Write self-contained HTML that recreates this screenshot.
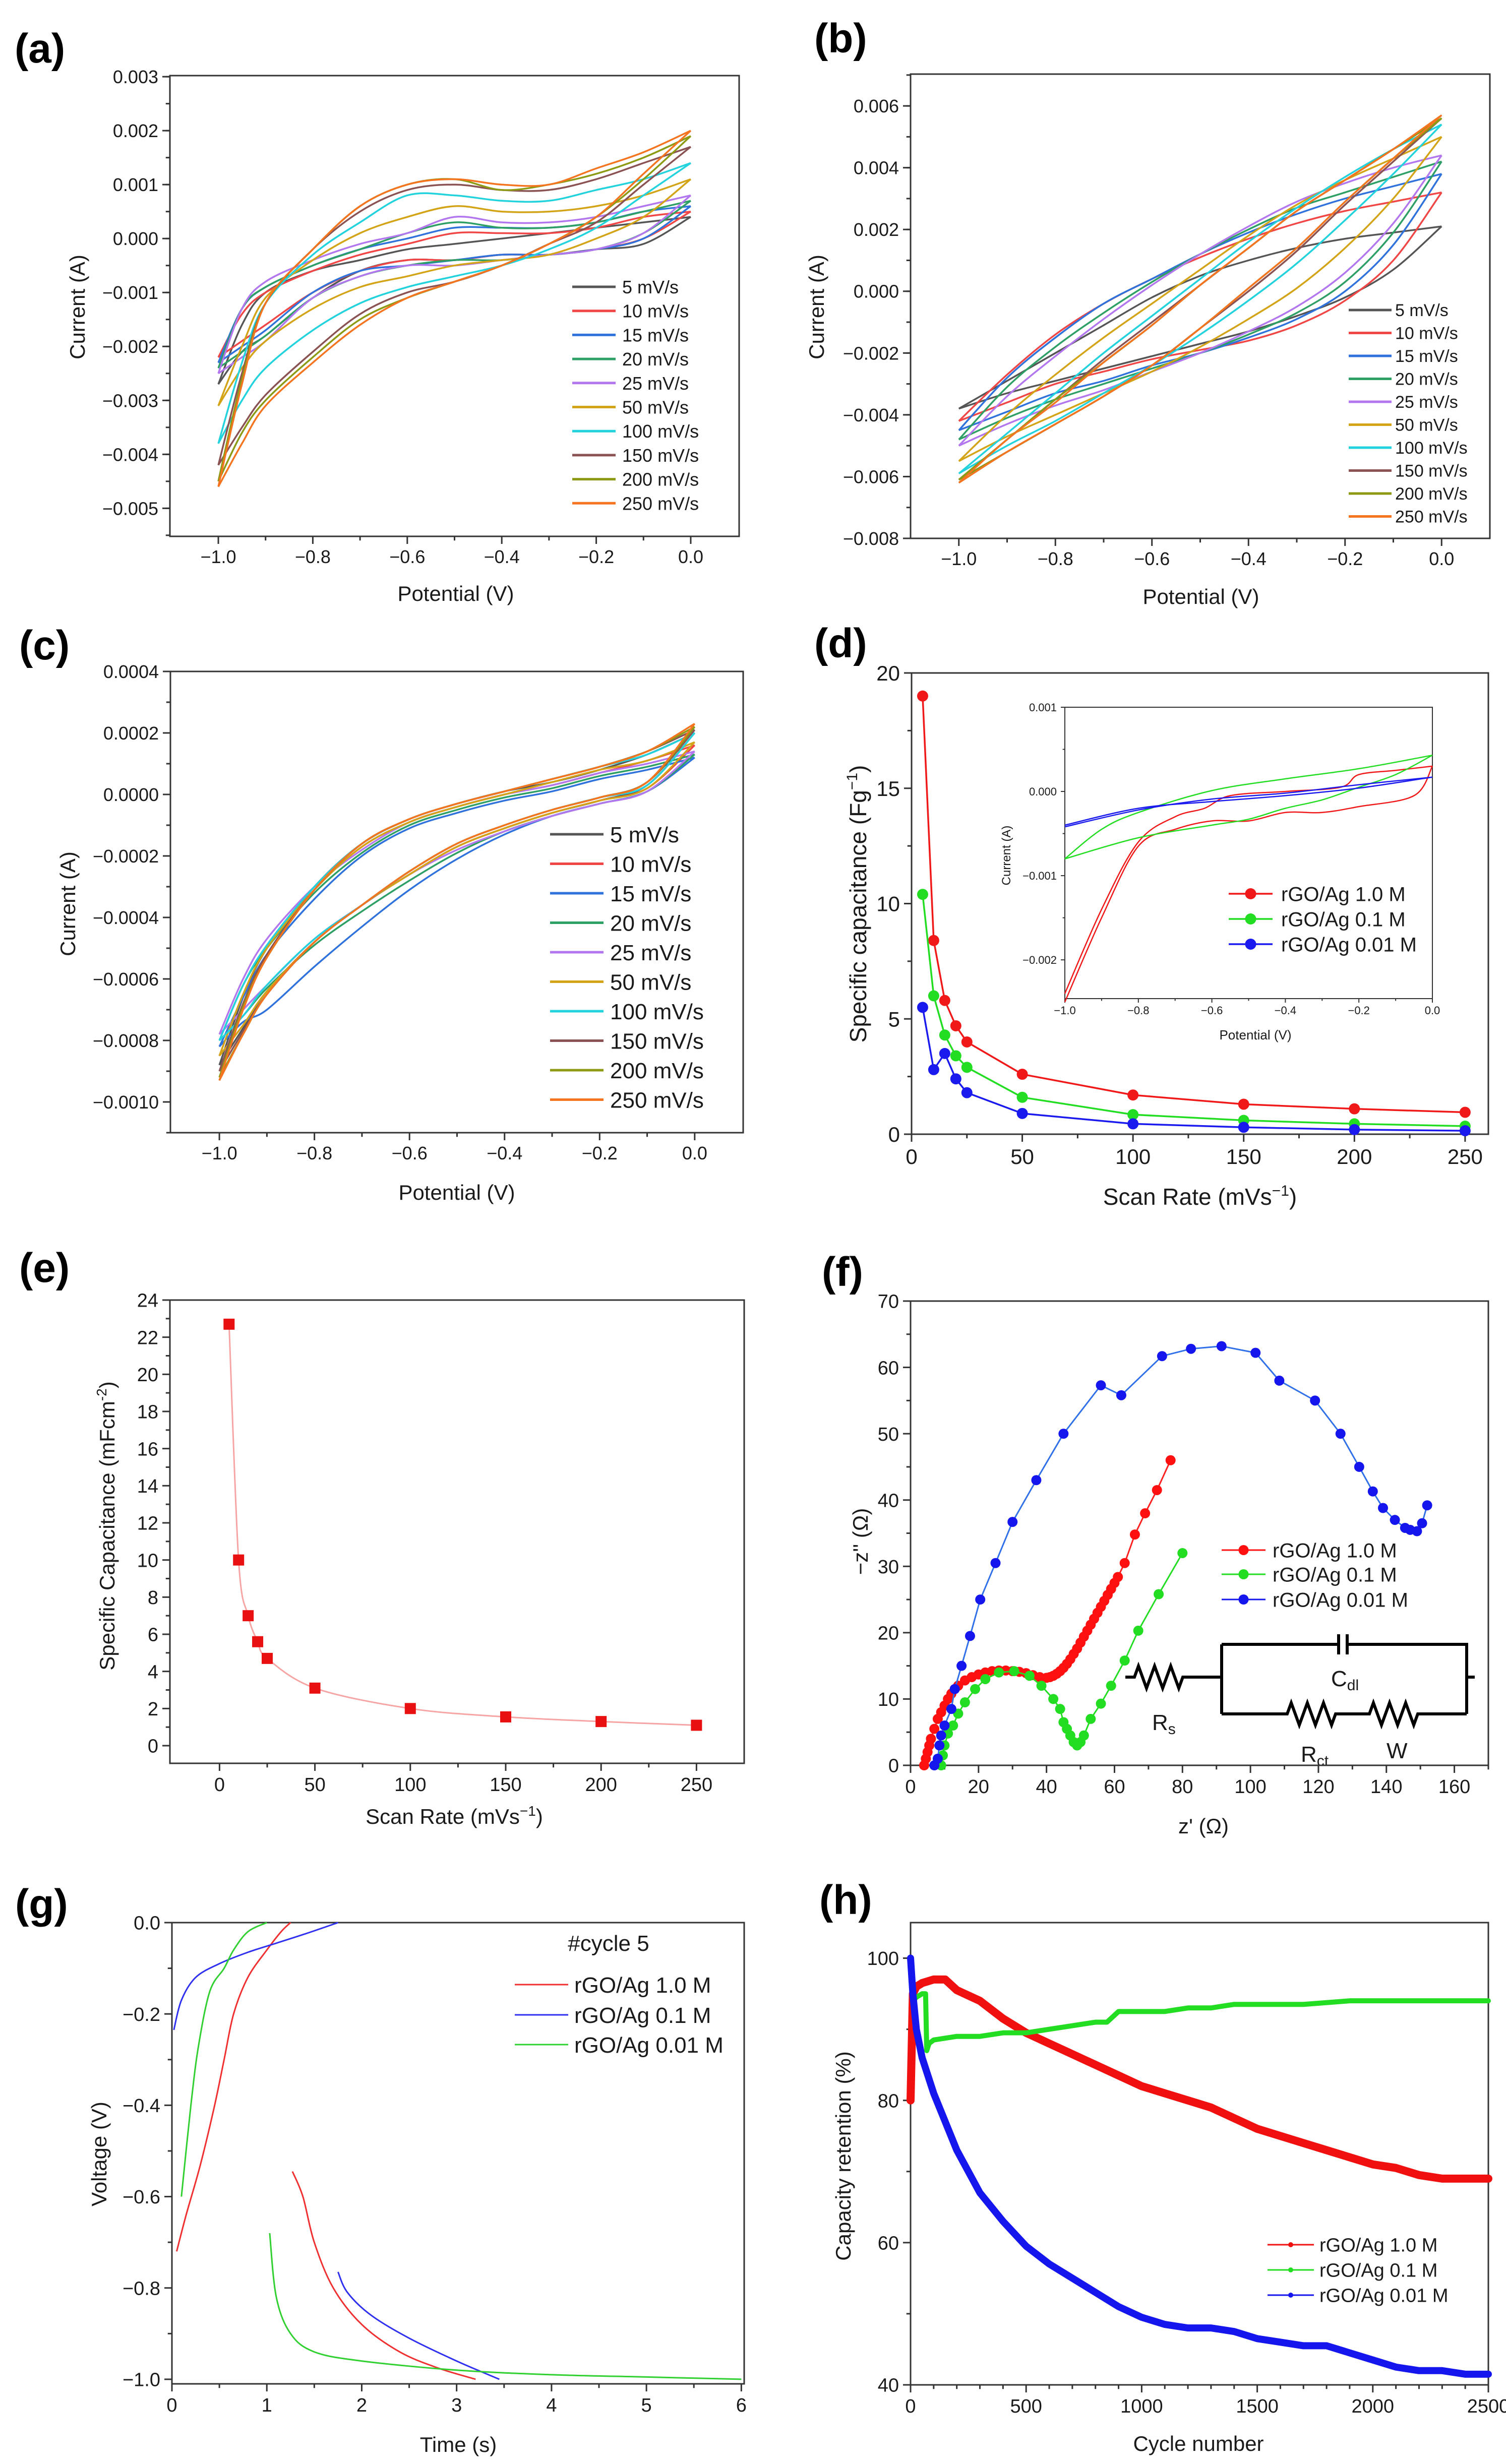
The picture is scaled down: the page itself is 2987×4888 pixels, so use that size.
<!DOCTYPE html>
<html><head><meta charset="utf-8"><title>rGO/Ag electrochemical characterisation</title>
<style>
html,body{margin:0;padding:0;background:#fff;}
svg{display:block;font-family:"Liberation Sans",Arial,sans-serif;}
text{fill:#1a1a1a;}
.pl{font-weight:bold;font-size:82px;fill:#000;}
</style></head>
<body>
<svg id="fig" width="2987" height="4888" viewBox="0 0 2987 4888" xmlns="http://www.w3.org/2000/svg">
<rect width="2987" height="4888" fill="#fff"/>
<text class="pl" x="29" y="124">(a)</text>
<text class="pl" x="1615" y="104">(b)</text>
<text class="pl" x="38" y="1308">(c)</text>
<text class="pl" x="1615" y="1304">(d)</text>
<text class="pl" x="38" y="2543">(e)</text>
<text class="pl" x="1630" y="2551">(f)</text>
<text class="pl" x="30" y="3805">(g)</text>
<text class="pl" x="1625" y="3797">(h)</text>
<text x="904" y="1192" font-size="42" text-anchor="middle">Potential (V)</text>
<text transform="translate(168,609) rotate(-90)" font-size="42" text-anchor="middle">Current (A)</text>
<text x="2382" y="1198" font-size="42" text-anchor="middle">Potential (V)</text>
<text transform="translate(1634,609) rotate(-90)" font-size="42" text-anchor="middle">Current (A)</text>
<text x="906" y="2380" font-size="42" text-anchor="middle">Potential (V)</text>
<text transform="translate(149,1793) rotate(-90)" font-size="42" text-anchor="middle">Current (A)</text>
<text x="2380" y="2390" font-size="46" text-anchor="middle">Scan Rate (mVs<tspan dy="-18" font-size="30">−1</tspan><tspan dy="18">)</tspan></text>
<text transform="translate(1718,1793) rotate(-90)" font-size="46" text-anchor="middle">Specific capacitance (Fg<tspan dy="-18" font-size="30">−1</tspan><tspan dy="18">)</tspan></text>
<text x="2490" y="2062" font-size="26" text-anchor="middle">Potential (V)</text>
<text transform="translate(2004,1697) rotate(-90)" font-size="24" text-anchor="middle">Current (A)</text>
<text x="901" y="3618" font-size="42" text-anchor="middle">Scan Rate (mVs<tspan dy="-16" font-size="28">−1</tspan><tspan dy="16">)</tspan></text>
<text transform="translate(227,3027) rotate(-90)" font-size="42" text-anchor="middle">Specific Capacitance (mFcm<tspan dy="-16" font-size="28">-2</tspan><tspan dy="16">)</tspan></text>
<text x="2387" y="3637" font-size="42" text-anchor="middle">z' (Ω)</text>
<text transform="translate(1721,3058) rotate(-90)" font-size="42" text-anchor="middle">−z'' (Ω)</text>
<text x="909" y="4864" font-size="42" text-anchor="middle">Time (s)</text>
<text transform="translate(211,4273) rotate(-90)" font-size="42" text-anchor="middle">Voltage (V)</text>
<text x="2377" y="4862" font-size="42" text-anchor="middle">Cycle number</text>
<text transform="translate(1687,4277) rotate(-90)" font-size="42" text-anchor="middle">Capacity retention (%)</text>
<text x="1207" y="3870" font-size="44" text-anchor="middle">#cycle 5</text>
<g fill="none" stroke="#000" stroke-width="6">
<path d="M2232,3327 L2250,3327 L2258,3305 L2274,3349 L2290,3305 L2306,3349 L2322,3305 L2338,3349 L2346,3327 L2423,3327"/>
<path d="M2423,3262 L2423,3400 M2423,3262 L2655,3262 M2655,3242 L2655,3282 M2672,3242 L2672,3282 M2672,3262 L2909,3262 L2909,3400 M2909,3327 L2925,3327"/>
<path d="M2423,3400 L2553,3400 L2561,3378 L2577,3422 L2593,3378 L2609,3422 L2625,3378 L2641,3422 L2649,3400 L2716,3400 L2724,3378 L2740,3422 L2756,3378 L2772,3422 L2788,3378 L2804,3422 L2812,3400 L2909,3400"/>
</g>
<text x="2285" y="3432" font-size="44">R<tspan font-size="30" dy="8">s</tspan></text>
<text x="2640" y="3345" font-size="44">C<tspan font-size="30" dy="8">dl</tspan></text>
<text x="2580" y="3495" font-size="44">R<tspan font-size="30" dy="8">ct</tspan></text>
<text x="2750" y="3488" font-size="44">W</text>
</svg>
<script>
const rateLabels=['5 mV/s','10 mV/s','15 mV/s','20 mV/s','25 mV/s','50 mV/s','100 mV/s','150 mV/s','200 mV/s','250 mV/s'];
const rateColors=['#555555','#f04646','#2f72dc','#2ea065','#b277ee','#d4a418','#22d2dc','#8a5252','#8c9a14','#f47420'];
const aX=[-1,-0.95,-0.9,-0.8,-0.7,-0.6,-0.5,-0.4,-0.3,-0.2,-0.1,0];
const aUpper=[
[-0.0027,-0.0016,-0.0010,-0.0006,-0.0004,-0.0002,-0.0001,0.0000,0.0001,0.0002,0.0003,0.0004],
[-0.0022,-0.0014,-0.0010,-0.0006,-0.0003,-0.0001,0.0001,0.0001,0.0001,0.0002,0.0004,0.0005],
[-0.0023,-0.0013,-0.0009,-0.0005,-0.0002,0.0000,0.0002,0.0002,0.0002,0.0003,0.0005,0.0006],
[-0.0024,-0.0013,-0.0009,-0.0005,-0.0002,0.0001,0.0003,0.0002,0.0002,0.0003,0.0005,0.0007],
[-0.0025,-0.0013,-0.0008,-0.0004,-0.0001,0.0001,0.0004,0.0003,0.0003,0.0004,0.0006,0.0008],
[-0.0031,-0.0020,-0.0011,-0.0004,0.0001,0.0004,0.0006,0.0005,0.0005,0.0006,0.0008,0.0011],
[-0.0038,-0.0023,-0.0012,-0.0003,0.0003,0.0008,0.0008,0.0007,0.0007,0.0009,0.0011,0.0014],
[-0.0042,-0.0025,-0.0012,-0.0002,0.0005,0.0009,0.0010,0.0009,0.0009,0.0011,0.0014,0.0017],
[-0.0045,-0.0026,-0.0012,-0.0002,0.0006,0.0010,0.0011,0.0009,0.0010,0.0012,0.0015,0.0019],
[-0.0046,-0.0027,-0.0012,-0.0002,0.0006,0.0010,0.0011,0.0010,0.0010,0.0013,0.0016,0.0020]];
const aLower=[
[-0.0027,-0.0021,-0.0018,-0.0011,-0.0006,-0.0004,-0.0004,-0.0003,-0.0003,-0.0002,-0.0001,0.0004],
[-0.0022,-0.0019,-0.0016,-0.0010,-0.0006,-0.0004,-0.0004,-0.0003,-0.0003,-0.0002,0.0000,0.0005],
[-0.0023,-0.0020,-0.0017,-0.0010,-0.0006,-0.0005,-0.0004,-0.0003,-0.0003,-0.0002,0.0000,0.0006],
[-0.0024,-0.0021,-0.0018,-0.0011,-0.0007,-0.0005,-0.0004,-0.0004,-0.0003,-0.0002,0.0001,0.0007],
[-0.0025,-0.0022,-0.0019,-0.0011,-0.0007,-0.0005,-0.0005,-0.0004,-0.0003,-0.0002,0.0001,0.0008],
[-0.0031,-0.0024,-0.0019,-0.0013,-0.0009,-0.0007,-0.0005,-0.0004,-0.0003,0.0000,0.0004,0.0011],
[-0.0038,-0.0030,-0.0024,-0.0017,-0.0012,-0.0009,-0.0007,-0.0005,-0.0002,0.0002,0.0008,0.0014],
[-0.0042,-0.0035,-0.0029,-0.0021,-0.0014,-0.0010,-0.0008,-0.0005,-0.0001,0.0003,0.0010,0.0017],
[-0.0045,-0.0036,-0.0030,-0.0022,-0.0015,-0.0011,-0.0008,-0.0005,-0.0001,0.0004,0.0011,0.0019],
[-0.0046,-0.0038,-0.0031,-0.0023,-0.0016,-0.0011,-0.0008,-0.0005,-0.0001,0.0004,0.0012,0.0020]];
const aXTicks=[-1,-0.8,-0.6,-0.4,-0.2,0];
const aXTickLabels=['−1.0','−0.8','−0.6','−0.4','−0.2','0.0'];
const aYTicks=[-0.005,-0.004,-0.003,-0.002,-0.001,0,0.001,0.002,0.003];
const aYTickLabels=['−0.005','−0.004','−0.003','−0.002','−0.001','0.000','0.001','0.002','0.003'];
const bX=[-1,-0.9,-0.8,-0.7,-0.6,-0.5,-0.4,-0.3,-0.2,-0.1,0];
const bUpper=[
[-0.0038,-0.0029,-0.0020,-0.0011,-0.0002,0.0005,0.0010,0.0014,0.0017,0.0019,0.0021],
[-0.0042,-0.0027,-0.0014,-0.0004,0.0004,0.0011,0.0017,0.0022,0.0026,0.0029,0.0032],
[-0.0045,-0.0028,-0.0015,-0.0004,0.0004,0.0012,0.0019,0.0025,0.0030,0.0034,0.0038],
[-0.0048,-0.0031,-0.0018,-0.0007,0.0003,0.0012,0.0020,0.0027,0.0032,0.0037,0.0042],
[-0.0050,-0.0034,-0.0021,-0.0009,0.0002,0.0012,0.0021,0.0029,0.0035,0.0040,0.0044],
[-0.0055,-0.0040,-0.0027,-0.0015,-0.0004,0.0007,0.0018,0.0028,0.0036,0.0043,0.0050],
[-0.0059,-0.0046,-0.0033,-0.0020,-0.0008,0.0004,0.0016,0.0027,0.0037,0.0046,0.0054],
[-0.0061,-0.0048,-0.0035,-0.0022,-0.0010,0.0002,0.0014,0.0026,0.0036,0.0046,0.0056],
[-0.0061,-0.0048,-0.0035,-0.0023,-0.0011,0.0002,0.0014,0.0026,0.0036,0.0046,0.0056],
[-0.0062,-0.0048,-0.0036,-0.0023,-0.0011,0.0002,0.0014,0.0026,0.0036,0.0046,0.0057]];
const bLower=[
[-0.0038,-0.0033,-0.0029,-0.0025,-0.0021,-0.0017,-0.0013,-0.0008,-0.0002,0.0007,0.0021],
[-0.0042,-0.0036,-0.0030,-0.0026,-0.0022,-0.0019,-0.0016,-0.0011,-0.0003,0.0010,0.0032],
[-0.0045,-0.0039,-0.0033,-0.0029,-0.0024,-0.0020,-0.0015,-0.0009,0.0000,0.0015,0.0038],
[-0.0048,-0.0041,-0.0035,-0.0030,-0.0025,-0.0020,-0.0014,-0.0007,0.0003,0.0019,0.0042],
[-0.0050,-0.0043,-0.0037,-0.0032,-0.0026,-0.0020,-0.0013,-0.0005,0.0006,0.0022,0.0044],
[-0.0055,-0.0047,-0.0040,-0.0033,-0.0026,-0.0018,-0.0009,0.0001,0.0014,0.0030,0.0050],
[-0.0059,-0.0050,-0.0042,-0.0033,-0.0024,-0.0014,-0.0003,0.0009,0.0023,0.0038,0.0054],
[-0.0061,-0.0052,-0.0043,-0.0034,-0.0024,-0.0012,0.0000,0.0013,0.0028,0.0042,0.0056],
[-0.0061,-0.0052,-0.0043,-0.0034,-0.0024,-0.0012,0.0001,0.0014,0.0029,0.0043,0.0056],
[-0.0062,-0.0052,-0.0043,-0.0034,-0.0024,-0.0012,0.0001,0.0014,0.0029,0.0043,0.0057]];
const bYTicks=[-0.008,-0.006,-0.004,-0.002,0,0.002,0.004,0.006];
const bYTickLabels=['−0.008','−0.006','−0.004','−0.002','0.000','0.002','0.004','0.006'];
const cX=[-1,-0.95,-0.9,-0.8,-0.7,-0.6,-0.5,-0.4,-0.3,-0.2,-0.1,0];
const cUpper=[
[-0.00088,-0.00066,-0.0005,-0.0003,-0.00016,-0.00008,-0.00003,0.00001,0.00004,0.00008,0.00013,0.0002],
[-0.00085,-0.00065,-0.0005,-0.00031,-0.00017,-0.00009,-0.00004,0.0,0.00003,0.00007,0.00011,0.00016],
[-0.00082,-0.00066,-0.00052,-0.00034,-0.0002,-0.00011,-0.00006,-0.00002,0.00001,0.00005,0.00008,0.00012],
[-0.0008,-0.00062,-0.0005,-0.00032,-0.00019,-0.0001,-0.00005,-0.00001,0.00002,0.00006,0.00009,0.00013],
[-0.00078,-0.0006,-0.00047,-0.0003,-0.00018,-0.00009,-0.00004,0.0,0.00003,0.00007,0.0001,0.00014],
[-0.00085,-0.00065,-0.0005,-0.00031,-0.00017,-0.00009,-0.00004,0.0,0.00004,0.00008,0.00011,0.00017],
[-0.0008,-0.00062,-0.00049,-0.0003,-0.00016,-0.00008,-0.00003,0.00001,0.00005,0.00009,0.00013,0.0002],
[-0.0009,-0.00068,-0.00052,-0.00031,-0.00016,-0.00008,-0.00003,0.00001,0.00005,0.00009,0.00014,0.00021],
[-0.00092,-0.00069,-0.00053,-0.00031,-0.00016,-0.00008,-0.00003,0.00001,0.00005,0.00009,0.00014,0.00022],
[-0.00093,-0.0007,-0.00053,-0.00031,-0.00016,-0.00008,-0.00003,0.00001,0.00005,0.00009,0.00014,0.00023]];
const cLower=[
[-0.00088,-0.00076,-0.00064,-0.00048,-0.00036,-0.00026,-0.00017,-0.00011,-0.00006,-0.00002,0.00003,0.0002],
[-0.00085,-0.00075,-0.00064,-0.00048,-0.00036,-0.00026,-0.00017,-0.00011,-0.00006,-0.00002,0.00002,0.00016],
[-0.00082,-0.00074,-0.0007,-0.00056,-0.00043,-0.00031,-0.00021,-0.00013,-0.00007,-0.00003,0.00001,0.00012],
[-0.0008,-0.00072,-0.00063,-0.00049,-0.00038,-0.00028,-0.00019,-0.00012,-0.00007,-0.00003,0.00001,0.00013],
[-0.00078,-0.0007,-0.00062,-0.00047,-0.00036,-0.00026,-0.00018,-0.00012,-0.00007,-0.00003,0.00001,0.00014],
[-0.00085,-0.00075,-0.00064,-0.00048,-0.00036,-0.00026,-0.00017,-0.00011,-0.00006,-0.00002,0.00002,0.00017],
[-0.0008,-0.00072,-0.00062,-0.00047,-0.00036,-0.00025,-0.00016,-0.0001,-0.00005,-0.00001,0.00003,0.0002],
[-0.0009,-0.00077,-0.00065,-0.00048,-0.00036,-0.00025,-0.00016,-0.0001,-0.00005,-0.00001,0.00004,0.00021],
[-0.00092,-0.00078,-0.00065,-0.00048,-0.00036,-0.00025,-0.00016,-0.0001,-0.00005,-0.00001,0.00004,0.00022],
[-0.00093,-0.00078,-0.00065,-0.00048,-0.00036,-0.00025,-0.00016,-0.0001,-0.00005,-0.00001,0.00004,0.00023]];
const cYTicks=[-0.001,-0.0008,-0.0006,-0.0004,-0.0002,0,0.0002,0.0004];
const cYTickLabels=['−0.0010','−0.0008','−0.0006','−0.0004','−0.0002','0.0000','0.0002','0.0004'];
const seriesNames=['rGO/Ag 1.0 M','rGO/Ag 0.1 M','rGO/Ag 0.01 M'];
const seriesColors=['#f01818','#22dd22','#1a1aee'];
const dRates=[5,10,15,20,25,50,100,150,200,250];
const dRed=[19,8.4,5.8,4.7,4.0,2.6,1.7,1.3,1.1,0.95];
const dGreen=[10.4,6.0,4.3,3.4,2.9,1.6,0.85,0.6,0.45,0.35];
const dBlue=[5.5,2.8,3.5,2.4,1.8,0.9,0.45,0.3,0.2,0.15];
const dXTicks=[0,50,100,150,200,250];
const dYTicks=[0,5,10,15,20];
const inRedUpX=[-1,-0.9,-0.8,-0.7,-0.6,-0.5,-0.4,-0.3,-0.2,-0.05,0];
const inRedUp=[-0.0025,-0.0015,-0.00065,-0.00045,-0.00035,-0.00035,-0.00025,-0.00025,-0.00018,-0.00005,0.0003];
const inRedLoX=[-1,-0.9,-0.8,-0.7,-0.62,-0.55,-0.4,-0.25,-0.2,-0.1,0];
const inRedLo=[-0.0024,-0.0014,-0.0006,-0.0003,-0.0002,-0.00005,0.0,0.00005,0.0002,0.00025,0.0003];
const inGreenX=[-1,-0.9,-0.8,-0.6,-0.4,-0.2,0];
const inGreenUp=[-0.0008,-0.00045,-0.00025,0.00001,0.00015,0.00027,0.00043];
const inGreenLoX=[-1,-0.8,-0.6,-0.5,-0.4,-0.3,-0.2,-0.1,0];
const inGreenLo=[-0.0008,-0.00055,-0.0004,-0.00033,-0.0002,-0.0001,0.00005,0.0002,0.00043];
const inBlueX=[-1,-0.8,-0.6,-0.4,-0.2,0];
const inBlueUp=[-0.00042,-0.00022,-0.00009,-0.00002,0.00008,0.00017];
const inBlueLo=[-0.0004,-0.0002,-0.00012,-0.00005,0.00004,0.00017];
const eRates=[5,10,15,20,25,50,100,150,200,250];
const eCap=[22.7,10,7,5.6,4.7,3.1,2.0,1.55,1.3,1.1];
const fRedX=[4,4.5,5,5.5,6,7,8,9,10,11,12,13,14,16,18,20,22,24,26,28,30,32,34,36,38,40,41,42,43,44,45,46,47,48,49,50,51,52,53,54,55,56,57,58,59,60,61,63,66,69,72.5,76.5];
const fRedY=[0,1,2,3,4,5.5,7,8,9,10,10.8,11.5,12,12.8,13.3,13.7,14,14.2,14.3,14.3,14.2,14.1,13.9,13.6,13.3,13.2,13.3,13.5,13.8,14.2,14.7,15.3,16,16.8,17.6,18.5,19.4,20.3,21.2,22.1,23,23.9,24.8,25.7,26.6,27.5,28.4,30.5,34.8,38,41.5,46];
const fGreenX=[9,9.5,10,11,12.5,14,16,19,22,26,30.5,35,38.5,42,44,45,46,47,48,49,50,51,53,56,59,63,67,73,80];
const fGreenY=[0,1.5,3,4.8,6,7.8,9.5,11.5,13,14,14.2,13.5,12,10,8.5,6.5,5.5,4.5,3.5,3,3.5,4.5,7,9.3,12,15.8,20.3,25.8,32];
const fBlueX=[7,8,8.5,9,10,12,13,15,17.5,20.5,25,30,37,45,56,62,74,82.5,91.5,101.5,108.5,119,126.5,132,136,139,142.5,145.5,147,149,150.5,152];
const fBlueY=[0,1,3,4.5,6,8.5,11.5,15,19.5,25,30.5,36.7,43,50,57.3,55.8,61.7,62.8,63.2,62.2,58,55,50,45,41.3,38.8,37,35.8,35.5,35.3,36.5,39.2];
const gRedChT=[0.05,0.15,0.3,0.45,0.55,0.65,0.8,1.0,1.15,1.25];
const gRedChV=[-0.72,-0.64,-0.53,-0.4,-0.3,-0.2,-0.12,-0.06,-0.02,0];
const gRedDisT=[1.27,1.38,1.5,1.7,2.0,2.4,2.8,3.2];
const gRedDisV=[-0.545,-0.6,-0.7,-0.8,-0.88,-0.94,-0.975,-1.0];
const gBlueChT=[0.02,0.1,0.25,0.5,0.8,1.1,1.4,1.75];
const gBlueChV=[-0.235,-0.17,-0.12,-0.09,-0.065,-0.045,-0.025,0];
const gBlueDisT=[1.75,1.85,2.1,2.5,3.0,3.45];
const gBlueDisV=[-0.765,-0.81,-0.86,-0.91,-0.96,-1.0];
const gGreenChT=[0.1,0.2,0.28,0.4,0.55,0.65,0.8,1.0];
const gGreenChV=[-0.6,-0.4,-0.27,-0.15,-0.1,-0.06,-0.02,0];
const gGreenDisT=[1.03,1.1,1.25,1.5,2,3,4,5,6];
const gGreenDisV=[-0.68,-0.82,-0.9,-0.94,-0.96,-0.98,-0.99,-0.995,-1.0];
const gLegendNames=['rGO/Ag 1.0 M','rGO/Ag 0.1 M','rGO/Ag 0.01 M'];
const gLegendColors=['#f03030','#3030f0','#30d030'];
const hCycles=[0,10,25,50,100,150,200,300,400,500,600,700,800,900,1000,1100,1200,1300,1400,1500,1600,1700,1800,1900,2000,2100,2200,2300,2400,2500];
const hRed=[80,95,96,96.5,97,97,95.5,94,91.5,89.5,88,86.5,85,83.5,82,81,80,79,77.5,76,75,74,73,72,71,70.5,69.5,69,69,69];
const hBlue=[100,95,90,86,81,77,73,67,63,59.5,57,55,53,51,49.5,48.5,48,48,47.5,46.5,46,45.5,45.5,44.5,43.5,42.5,42,42,41.5,41.5];
const hGreenCycles=[0,10,25,50,65,70,80,100,200,300,400,500,600,700,800,850,900,950,1000,1100,1200,1300,1400,1500,1700,1900,2000,2200,2500];
const hGreen=[100,94,94.5,95,95,87,88,88.5,89,89,89.5,89.5,90,90.5,91,91,92.5,92.5,92.5,92.5,93,93,93.5,93.5,93.5,94,94,94,94];

const NS='http://www.w3.org/2000/svg';
const svg=document.getElementById('fig');
function el(tag,attrs,parent){const e=document.createElementNS(NS,tag);for(const k in attrs)e.setAttribute(k,attrs[k]);(parent||svg).appendChild(e);return e;}
function txt(s,attrs,parent){const t=el('text',attrs,parent);t.textContent=s;return t;}
function lin(d0,d1,p0,p1){return v=>p0+(v-d0)/(d1-d0)*(p1-p0);}
function fmt(v){return String(v);}
function axes(name,box,xd,yd,xt,xl,xminor,yt,yl,yminor,fs,tl){
  tl=tl||15;
  const g=el('g',{});
  
  
  const sx=lin(xd[0],xd[1],box.l,box.r), sy=lin(yd[0],yd[1],box.b,box.t);
  const sw=tl>10?3:2;
  el('rect',{x:box.l,y:box.t,width:box.r-box.l,height:box.b-box.t,fill:'none',stroke:'#333','stroke-width':sw},g);
  xt.forEach((v,i)=>{const x=sx(v);
    el('line',{x1:x,x2:x,y1:box.b,y2:box.b+tl,stroke:'#333','stroke-width':sw},g);
    const t=txt(xl[i],{x:x,y:box.b+tl+fs*1.05,'font-size':fs,'text-anchor':'middle'},g);
    
    });
  xminor.forEach(v=>{const x=sx(v);el('line',{x1:x,x2:x,y1:box.b,y2:box.b+tl*0.55,stroke:'#333','stroke-width':sw},g);});
  yt.forEach((v,i)=>{const y=sy(v);
    el('line',{x1:box.l-tl,x2:box.l,y1:y,y2:y,stroke:'#333','stroke-width':sw},g);
    const t=txt(yl[i],{x:box.l-tl-8,y:y+fs*0.36,'font-size':fs,'text-anchor':'end'},g);
    
    });
  yminor.forEach(v=>{const y=sy(v);el('line',{x1:box.l-tl*0.55,x2:box.l,y1:y,y2:y,stroke:'#333','stroke-width':sw},g);});
  return {sx,sy};
}
function smooth(p){let d='M'+p[0][0].toFixed(1)+','+p[0][1].toFixed(1);
  for(let i=0;i<p.length-1;i++){const p0=p[i-1]||p[i],p1=p[i],p2=p[i+1],p3=p[i+2]||p2;
    const c1=[p1[0]+(p2[0]-p0[0])/6,p1[1]+(p2[1]-p0[1])/6],c2=[p2[0]-(p3[0]-p1[0])/6,p2[1]-(p3[1]-p1[1])/6];
    d+=' C'+c1[0].toFixed(1)+','+c1[1].toFixed(1)+' '+c2[0].toFixed(1)+','+c2[1].toFixed(1)+' '+p2[0].toFixed(1)+','+p2[1].toFixed(1);}
  return d;}
function pts(xs,ys,ax){return xs.map((x,i)=>[ax.sx(x),ax.sy(ys[i])]);}
function range(a,b,s){const r=[];for(let v=a;v<=b+1e-9;v+=s)r.push(+v.toFixed(6));return r;}
function cvPanel(name,ax,xs,up,lo,w){
  up.forEach((u,i)=>{
    const p1=el('path',{d:smooth(pts(xs,u,ax)),fill:'none',stroke:rateColors[i],'stroke-width':w,'stroke-linejoin':'round'});
    
    
    const p2=el('path',{d:smooth(pts(xs,lo[i],ax)),fill:'none',stroke:rateColors[i],'stroke-width':w,'stroke-linejoin':'round'});
    
    
  });
}
function rateLegend(name,x1,x2,tx,y0,dy,fs){
  rateLabels.forEach((lab,i)=>{const y=y0+i*dy;
    const g=el('g',{});
    
    
    el('line',{x1:x1,x2:x2,y1:y,y2:y,stroke:rateColors[i],'stroke-width':5},g);
    txt(lab,{x:tx,y:y+fs*0.36,'font-size':fs},g);});
}
function seriesLegend(name,names,colors,x1,x2,tx,ys,fs,r,lw){
  names.forEach((lab,i)=>{const y=ys[i];
    const g=el('g',{});
    
    
    el('line',{x1:x1,x2:x2,y1:y,y2:y,stroke:colors[i],'stroke-width':lw},g);
    if(r>0)el('circle',{cx:(x1+x2)/2,cy:y,r:r,fill:colors[i]},g);
    txt(lab,{x:tx,y:y+fs*0.36,'font-size':fs},g);});
}

const axA=axes('a',{l:337,r:1466,t:150,b:1064},[-1.1025,0.1025],[-0.00552,0.00302],aXTicks,aXTickLabels,[-0.9,-0.7,-0.5,-0.3,-0.1],aYTicks,aYTickLabels,range(-0.0055,0.003,0.0005),36);
cvPanel('a',axA,aX,aUpper,aLower,3.5);
rateLegend('a',1135,1221,1234,569,47.7,36);
const axB=axes('b',{l:1806,r:2955,t:147,b:1068},[-1.1,0.1],[-0.008,0.00703],aXTicks,aXTickLabels,[-0.9,-0.7,-0.5,-0.3,-0.1],bYTicks,bYTickLabels,range(-0.008,0.007,0.001),36);
cvPanel('b',axB,bX,bUpper,bLower,3.5);
rateLegend('b',2675,2760,2767,615,45.5,34);
const axC=axes('c',{l:338,r:1474,t:1332,b:2247},[-1.103,0.102],[-0.0011,0.0004],aXTicks,aXTickLabels,[-0.9,-0.7,-0.5,-0.3,-0.1],cYTicks,cYTickLabels,range(-0.0011,0.0004,0.0001),36);
cvPanel('c',axC,cX,cUpper,cLower,3.5);
rateLegend('c',1091,1197,1210,1655,58.5,44);
const axD=axes('d',{l:1808,r:2952,t:1335,b:2250},[0,260.5],[0,20],dXTicks,dXTicks.map(fmt),[25,75,125,175,225],dYTicks,dYTicks.map(fmt),[2.5,7.5,12.5,17.5],42);
[dRed,dGreen,dBlue].forEach((ser,k)=>{
  const pl=el('polyline',{points:pts(dRates,ser,axD).map(p=>p.join(',')).join(' '),fill:'none',stroke:seriesColors[k],'stroke-width':3.5});
  
  
  ser.forEach((v,i)=>{const c=el('circle',{cx:axD.sx(dRates[i]),cy:axD.sy(v),r:11,fill:seriesColors[k]});
    
    });
});
const axIn=axes('inset',{l:2112,r:2841,t:1403,b:1981},[-1,0],[-0.00246,0.001],[-1,-0.8,-0.6,-0.4,-0.2,0],['−1.0','−0.8','−0.6','−0.4','−0.2','0.0'],[-0.9,-0.7,-0.5,-0.3,-0.1],[-0.002,-0.001,0,0.001],['−0.002','−0.001','0.000','0.001'],[-0.0015,-0.0005,0.0005],22,8);
[[inRedUpX,inRedUp,0],[inRedLoX,inRedLo,0],[inGreenX,inGreenUp,1],[inGreenLoX,inGreenLo,1],[inBlueX,inBlueUp,2],[inBlueX,inBlueLo,2]].forEach(s=>{
  const p=el('path',{d:smooth(pts(s[0],s[1],axIn)),fill:'none',stroke:seriesColors[s[2]],'stroke-width':2.5});
  
  });
seriesLegend('d',seriesNames,seriesColors,2437,2524,2541,[1773,1823,1873],40,11,3.5);
const axE=axes('e',{l:337,r:1476,t:2579,b:3498},[-26,275],[-0.95,24],dXTicks,dXTicks.map(fmt),[25,75,125,175,225],range(0,24,2),range(0,24,2).map(fmt),range(1,23,2),38);
const eLine=el('path',{d:smooth(pts(eRates,eCap,axE)),fill:'none',stroke:'#f6a4a4','stroke-width':3});


eCap.forEach((v,i)=>{const s=el('rect',{x:axE.sx(eRates[i])-11,y:axE.sy(v)-11,width:22,height:22,fill:'#e81010'});
  
  });
const axF=axes('f',{l:1806,r:2952,t:2581,b:3502},[0,170],[0,70],range(0,160,20),range(0,160,20).map(fmt),range(10,170,20),range(0,70,10),range(0,70,10).map(fmt),range(5,65,10),38);
[[fRedX,fRedY,0],[fGreenX,fGreenY,1],[fBlueX,fBlueY,2]].forEach(s=>{
  const col=['#ff2020','#22dd22','#3070e8'][s[2]];const dot=['#ff1010','#22dd22','#1515ee'][s[2]];
  const pl=el('polyline',{points:pts(s[0],s[1],axF).map(p=>p.join(',')).join(' '),fill:'none',stroke:col,'stroke-width':3});
  
  
  s[0].forEach((x,i)=>{const c=el('circle',{cx:axF.sx(x),cy:axF.sy(s[1][i]),r:10,fill:dot});
    
    });
});
seriesLegend('f',seriesNames,['#ff1010','#22dd22','#1515ee'],2423,2510,2524,[3075,3123,3173],40,10,3);
const axG=axes('g',{l:341,r:1476,t:3814,b:4729},[0,6.03],[-1.01,0],range(0,6,1),range(0,6,1).map(fmt),range(0.5,5.5,1),range(-1,0,0.2),['−1.0','−0.8','−0.6','−0.4','−0.2','0.0'],range(-0.9,-0.1,0.2),38);
[[gRedChT,gRedChV,0],[gRedDisT,gRedDisV,0],[gBlueChT,gBlueChV,1],[gBlueDisT,gBlueDisV,1],[gGreenChT,gGreenChV,2],[gGreenDisT,gGreenDisV,2]].forEach(s=>{
  const p=el('path',{d:smooth(pts(s[0],s[1],axG)),fill:'none',stroke:gLegendColors[s[2]],'stroke-width':3});
  
  });
seriesLegend('g',gLegendNames,gLegendColors,1021,1127,1139,[3937,3997,4056],44,0,3);
const axH=axes('h',{l:1806,r:2952,t:3814,b:4731},[0,2500],[40,105],range(0,2500,500),range(0,2500,500).map(fmt),range(100,2400,100).filter(v=>v%500!==0),[40,60,80,100],['40','60','80','100'],[50,70,90],38);
[[hCycles,hRed,'#f01010',16,0],[hGreenCycles,hGreen,'#22dd22',10,1],[hCycles,hBlue,'#1515ee',14,2]].forEach(s=>{
  const pl=el('polyline',{points:pts(s[0],s[1],axH).map(p=>p.join(',')).join(' '),fill:'none',stroke:s[2],'stroke-width':s[3],'stroke-linejoin':'round','stroke-linecap':'round'});
  
  });
seriesLegend('h',seriesNames,['#f01010','#22dd22','#1515ee'],2514,2606,2617,[4453,4503,4553],38,5,3);
</script>
</body></html>
